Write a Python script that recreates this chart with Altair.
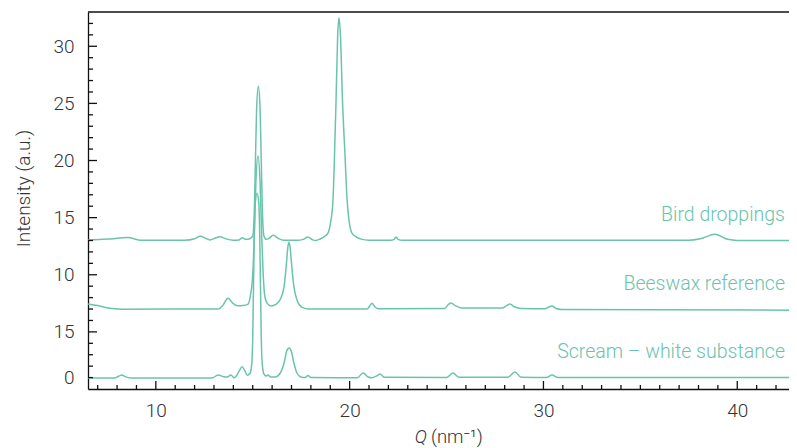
import altair as alt
import pandas as pd

TEAL = "#6ac4ac"
FONT = "Roboto"

series_names = ["Bird droppings", "Beeswax reference", "Scream – white substance"]

bird_q = [6.50, 7.50, 8.56, 9.18, 11.50, 12.00, 12.28, 12.60, 12.80, 13.05, 13.31, 13.60, 14.00, 14.30,
          14.45, 14.65, 14.85, 15.00, 15.08, 15.14, 15.20, 15.29, 15.38, 15.44, 15.50, 15.58, 15.70, 15.85,
          16.05, 16.30, 16.60, 17.30, 17.60, 17.85, 18.10, 18.25, 18.50, 18.70, 18.88, 19.02, 19.14, 19.22,
          19.30, 19.38, 19.45, 19.53, 19.63, 19.76, 19.87, 19.98, 20.12, 20.35, 20.60, 21.00, 22.10, 22.30,
          22.40, 22.50, 22.70, 37.50, 38.10, 38.85, 39.50, 40.00, 42.67]
bird_i = [13.05, 13.12, 13.26, 13.03, 13.02, 13.15, 13.37, 13.18, 13.05, 13.20, 13.32, 13.15, 13.02, 13.05,
          13.24, 13.10, 13.15, 13.40, 15.50, 20.00, 24.50, 26.50, 24.50, 20.00, 15.50, 13.40, 13.10, 13.20,
          13.45, 13.20, 13.02, 13.02, 13.10, 13.30, 13.05, 13.00, 13.15, 13.35, 13.64, 14.60, 16.50, 20.50,
          25.30, 30.80, 32.50, 30.80, 25.30, 20.50, 16.50, 14.60, 13.64, 13.30, 13.12, 13.03, 13.02, 13.10,
          13.30, 13.10, 13.02, 13.02, 13.15, 13.55, 13.10, 13.00, 13.00]

bees_q = [6.50, 7.00, 7.60, 8.20, 13.20, 13.45, 13.72, 13.98, 14.20, 14.50, 14.76, 14.88, 15.00, 15.08,
          15.16, 15.27, 15.38, 15.46, 15.54, 15.63, 15.75, 15.95, 16.20, 16.45, 16.62, 16.74, 16.81, 16.87,
          16.93, 17.00, 17.12, 17.30, 17.55, 17.90, 20.90, 21.05, 21.15, 21.30, 21.50, 24.90, 25.10, 25.23,
          25.45, 25.75, 27.90, 28.10, 28.27, 28.50, 28.85, 30.10, 30.30, 30.44, 30.65, 31.00, 42.67]
bees_i = [7.45, 7.30, 7.06, 6.99, 7.00, 7.30, 7.95, 7.50, 7.28, 7.30, 7.43, 8.20, 10.00, 13.50,
          18.00, 20.40, 18.00, 13.50, 10.00, 8.04, 7.50, 7.26, 7.40, 7.95, 9.00, 11.00, 12.40, 12.85,
          12.40, 11.00, 9.00, 7.70, 7.15, 7.00, 7.00, 7.30, 7.50, 7.20, 7.02, 7.05, 7.40, 7.52,
          7.30, 7.10, 7.10, 7.30, 7.43, 7.20, 7.05, 7.02, 7.20, 7.26, 7.05, 6.95, 6.90]

scr_q = [6.50, 7.90, 8.08, 8.25, 8.42, 8.70, 12.90, 13.21, 13.50, 13.67, 13.88, 14.03, 14.18, 14.32,
         14.45, 14.58, 14.72, 14.86, 14.95, 15.00, 15.04, 15.08, 15.13, 15.22, 15.31, 15.36, 15.40, 15.44,
         15.49, 15.58, 15.68, 15.79, 15.92, 16.15, 16.42, 16.62, 16.75, 16.87, 16.99, 17.12, 17.28, 17.48,
         17.70, 17.85, 18.00, 20.40, 20.69, 20.95, 21.15, 21.40, 21.57, 21.80, 25.00, 25.33, 25.65, 28.15,
         28.53, 28.85, 30.15, 30.44, 30.75, 42.67]
scr_i = [0.96, 0.97, 1.12, 1.22, 1.08, 0.97, 0.97, 1.22, 1.08, 1.05, 1.22, 0.98, 1.20, 1.65,
         1.95, 1.65, 1.20, 1.35, 2.20, 4.50, 9.00, 13.50, 16.30, 17.13, 16.30, 13.50, 9.00, 4.50,
         2.20, 1.30, 1.14, 1.22, 1.05, 1.05, 1.40, 2.30, 3.30, 3.58, 3.30, 2.30, 1.40, 1.05,
         1.00, 1.18, 1.00, 0.99, 1.40, 1.05, 0.98, 1.15, 1.31, 1.02, 1.00, 1.40, 1.02, 1.02,
         1.49, 1.02, 1.00, 1.22, 1.00, 1.00]

x_major = [10, 20, 30, 40]
x_minor = [v for v in range(7, 43) if v % 10 != 0]
y_major = [5, 10, 15, 20, 25, 30]
y_minor = [v for v in range(1, 33) if v % 5 != 0]
y_label_values = [1, 5, 10, 15, 20, 25, 30]

assert len(bird_q) == len(bird_i) and len(bees_q) == len(bees_i) and len(scr_q) == len(scr_i)

rows = []
for name, qs, ii in zip(series_names, [bird_q, bees_q, scr_q], [bird_i, bees_i, scr_i]):
    for k, (q, v) in enumerate(zip(qs, ii)):
        rows.append({"series": name, "q": q, "intensity": v, "idx": k})
df = pd.DataFrame(rows)

W, H = 701, 377
xscale = alt.Scale(domain=[6.5, 42.67], nice=False, zero=False)
yscale = alt.Scale(domain=[0, 33], nice=False, zero=False)

lines = alt.Chart(df).mark_line(
    interpolate="monotone", strokeWidth=1.5, color=TEAL, clip=True
).encode(
    x=alt.X("q:Q", scale=xscale,
            axis=alt.Axis(values=x_major, ticks=False, tickSize=0, grid=False, title="",
                          labelPadding=12, labelFontSize=19)),
    y=alt.Y("intensity:Q", scale=yscale,
            axis=alt.Axis(values=y_label_values, ticks=False, tickSize=0, grid=False,
                          title="Intensity (a.u.)", titleX=-65, titleY=176, titleBaseline="middle",
                          titleAngle=270, titleFontSize=19,
                          labelExpr="datum.value == 1 ? '0' : datum.value == 5 ? '15' : datum.label",
                          labelPadding=14, labelFontSize=19)),
    detail="series:N",
    order="idx:Q",
)

tick_color = "#111111"
xt_major = alt.Chart(pd.DataFrame({"q": x_major})).mark_rule(color=tick_color, strokeWidth=1.3).encode(
    x="q:Q", y=alt.value(H), y2=alt.value(H - 8))
xt_minor = alt.Chart(pd.DataFrame({"q": x_minor})).mark_rule(color=tick_color, strokeWidth=1.3).encode(
    x="q:Q", y=alt.value(H), y2=alt.value(H - 4))
yt_major = alt.Chart(pd.DataFrame({"intensity": y_major})).mark_rule(color=tick_color, strokeWidth=1.3).encode(
    y="intensity:Q", x=alt.value(0), x2=alt.value(9))
yt_minor = alt.Chart(pd.DataFrame({"intensity": y_minor})).mark_rule(color=tick_color, strokeWidth=1.3).encode(
    y="intensity:Q", x=alt.value(0), x2=alt.value(5))

one = pd.DataFrame({"k": [0]})
top_line = alt.Chart(one).mark_rule(color=tick_color, strokeWidth=1.5).encode(
    x=alt.value(0), x2=alt.value(W), y=alt.value(0))

label_layers = []
for name, ypix in zip(series_names, [203, 272, 340]):
    label_layers.append(
        alt.Chart(one).mark_text(align="right", baseline="middle", fontSize=19.5, font=FONT,
                                 fontWeight=300, color=TEAL).encode(
            x=alt.value(697), y=alt.value(ypix), text=alt.value(name)))

q_title = alt.Chart(one).mark_text(align="right", baseline="middle", fontSize=18.5, font=FONT,
                                   fontWeight=300, fontStyle="italic", color="#333333").encode(
    x=alt.value(339), y=alt.value(425), text=alt.value("Q"))
unit_title = alt.Chart(one).mark_text(align="left", baseline="middle", fontSize=18.5, font=FONT,
                                      fontWeight=300, color="#333333").encode(
    x=alt.value(343), y=alt.value(425), text=alt.value("(nm⁻¹)"))

chart = alt.layer(
    lines, xt_major, xt_minor, yt_major, yt_minor, top_line, *label_layers, q_title, unit_title
).properties(
    width=W, height=H, autosize="none",
    padding={"left": 80, "top": 4, "right": 0, "bottom": 59},
).configure_view(
    strokeWidth=0
).configure_axis(
    labelFont=FONT, titleFont=FONT, labelFontWeight=300, titleFontWeight=300,
    labelColor="#333333", titleColor="#333333",
    domainColor=tick_color, domainWidth=1.3,
)

chart.save("out.html", embed_options={"renderer": "svg", "actions": False})
